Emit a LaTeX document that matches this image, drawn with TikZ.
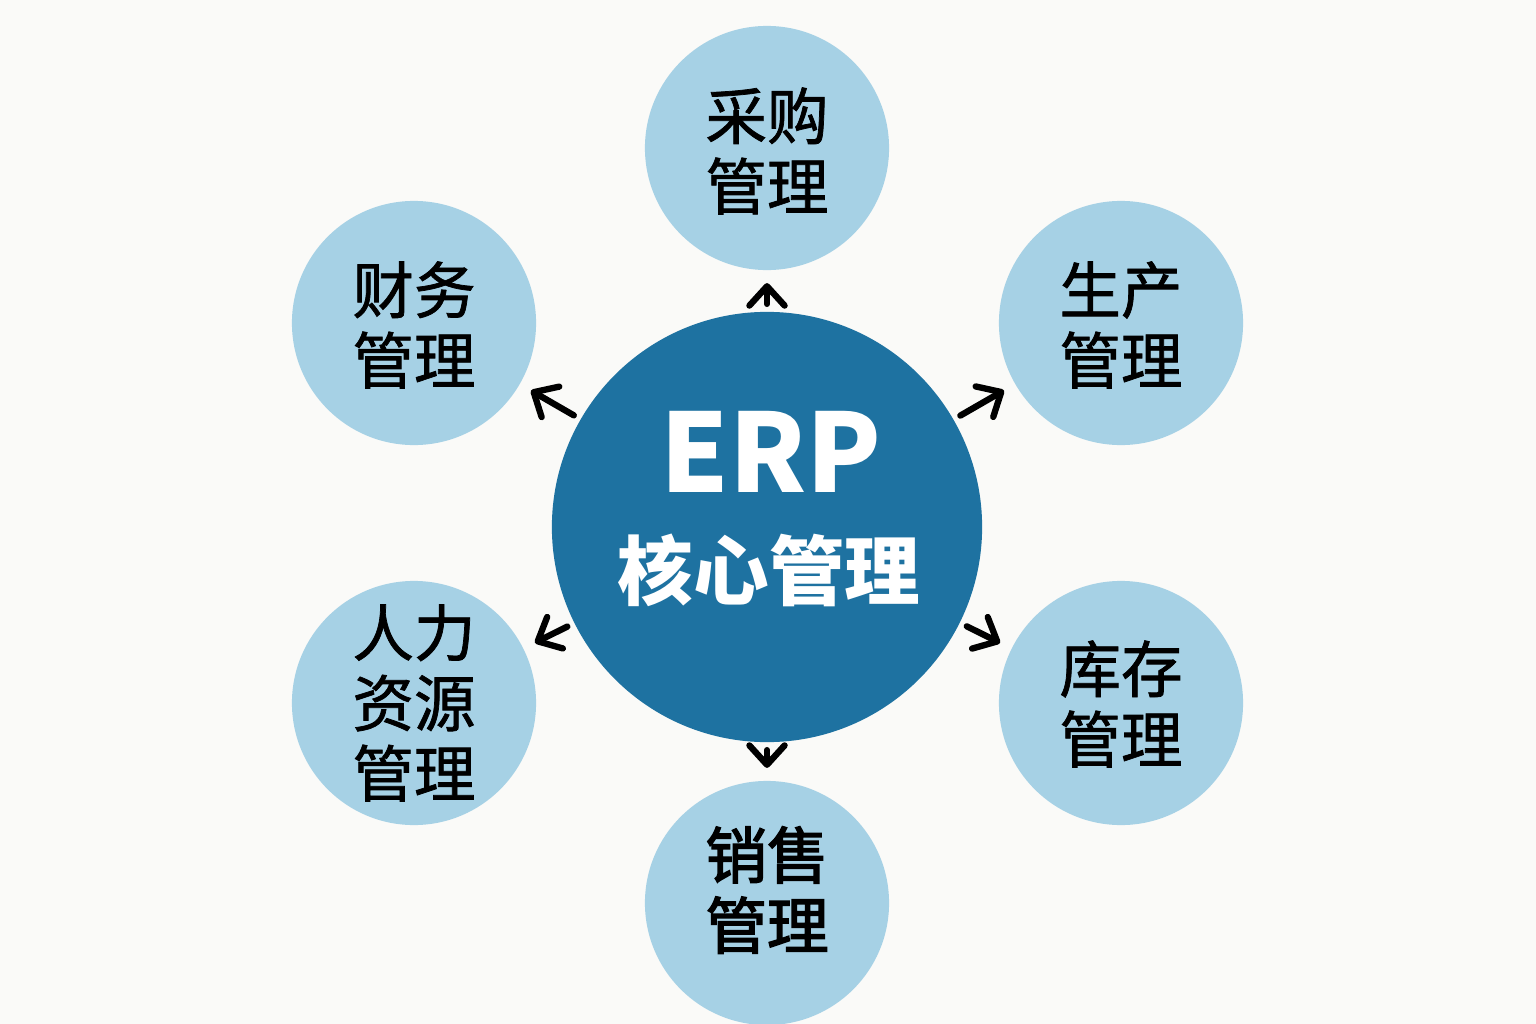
\documentclass[tikz,border=0pt]{standalone}
\usepackage{fontspec}
\newfontfamily\cjk{Noto Sans CJK SC}
\newfontfamily\cjkmid[FakeBold=1.2]{Noto Sans CJK SC}
\newfontfamily\cjkheavy[FakeBold=2.4]{Noto Sans CJK SC}
\usetikzlibrary{arrows.meta,positioning}
\definecolor{deepblue}{HTML}{1E72A1}
\definecolor{paleblue}{HTML}{A6D1E5}
\definecolor{paper}{HTML}{FAFAF8}
\tikzset{
  core/.style={circle,fill=deepblue,minimum size=4.3cm,inner sep=0pt,outer sep=0pt},
  module/.style={circle,fill=paleblue,minimum size=2.44cm,inner sep=0pt,outer sep=0pt},
  modtext/.style={align=center,font=\cjkmid\fontsize{17.5}{20}\selectfont},
  link/.style={black,line width=1.8pt,line cap=round,line join=round,
    -{Straight Barb[length=5.5pt,width=10pt,round]},shorten <=0.08cm,shorten >=0.13cm}
}
\begin{document}
\begin{tikzpicture}[x=0.01cm,y=-0.01cm]
  \fill[paper] (0,0) rectangle (1536,1024);
  \useasboundingbox (0,0) rectangle (1536,1024);
  \node[core] (erp) at (767,527) {};
  \node[white,font=\cjk\bfseries\fontsize{31}{34}\selectfont] (erptxt) at (771,452) {ERP};
  \node[white,font=\cjk\bfseries\fontsize{21.5}{24}\selectfont] (coretxt) at (769,570) {核心管理};
  \foreach \n/\x/\y/\ty/\t in {cg/767/148/151/{采购\\管理},cw/414/323/325/{财务\\管理},sc/1121/323/325/{生产\\管理},
                               rl/414/703/703/{\fontsize{17.5}{19}\selectfont 人力\\资源\\管理},kc/1121/703/704/{库存\\管理},
                               xs/767/903/890/{\cjkheavy 销售\\\cjkheavy 管理}}{
    \node[module] (\n) at (\x,\y) {};
    \node[modtext] (\n txt) at (\x,\ty) {\t};
    \draw[link] (erp) -- (\n);}
\end{tikzpicture}
\end{document}
